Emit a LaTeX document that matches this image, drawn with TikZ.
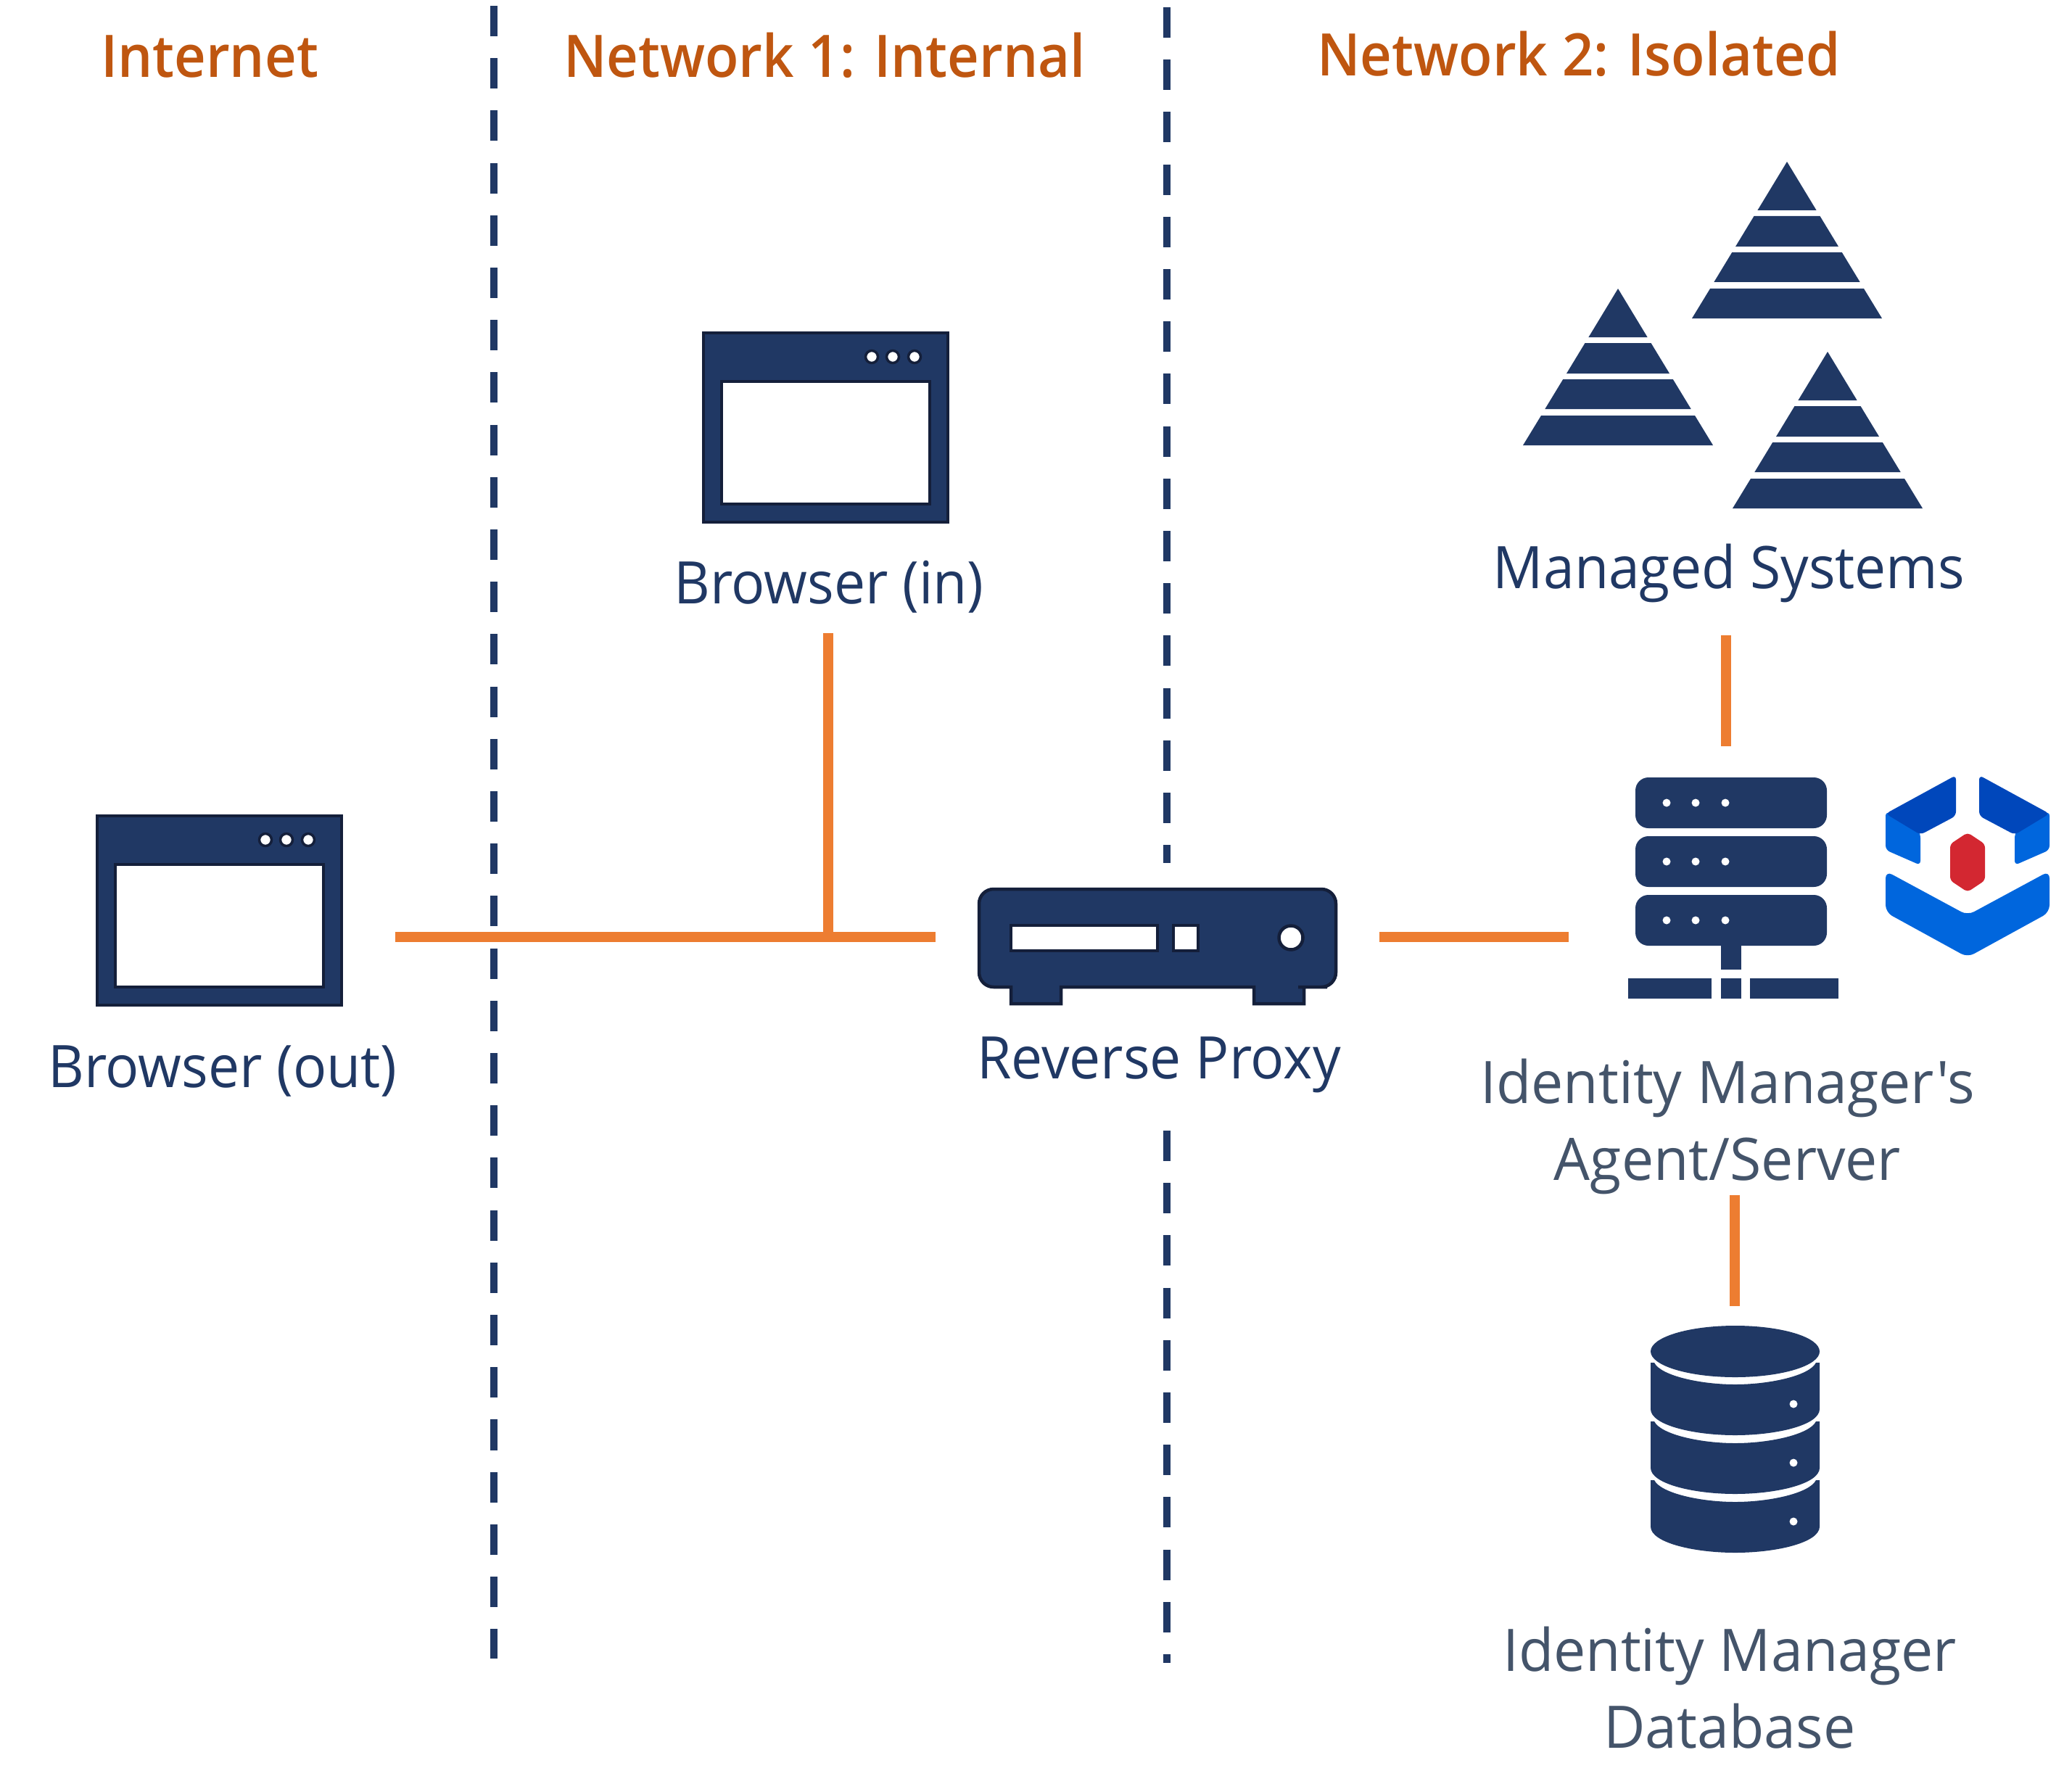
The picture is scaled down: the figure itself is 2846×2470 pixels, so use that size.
\documentclass[tikz,border=0pt]{standalone}
\usepackage{fontspec}
\newfontfamily\labelfont[FakeStretch=0.95]{Open Sans}
\newfontfamily\lowfont[FakeStretch=0.975]{Open Sans}
\newfontfamily\headfont[FakeStretch=0.94,UprightFont=* Semibold]{Open Sans}
\definecolor{navy}{HTML}{203864}
\definecolor{rim}{HTML}{141F3A}
\definecolor{wire}{HTML}{ED7D31}
\definecolor{heading}{HTML}{BF5610}
\definecolor{slate}{HTML}{44546A}
\definecolor{logodark}{HTML}{0047BB}
\definecolor{logolight}{HTML}{0066DD}
\definecolor{logored}{HTML}{D32731}
\begin{document}
\begin{tikzpicture}
    [
    x=0.01cm,y=-0.01cm,
    zone/.style={anchor=base,inner sep=0pt,text=heading,font=\headfont\fontsize{23}{28}\selectfont},
    caption/.style={anchor=base,inner sep=0pt,align=center,text=navy,font=\labelfont\fontsize{23}{29.9}\selectfont},
    lowcaption/.style={caption,text=slate,font=\lowfont\fontsize{23}{29.9}\selectfont},
    wireline/.style={draw=wire,line width=0.14cm},
    border/.style={draw=navy,line width=0.1cm,dash pattern=on 0.42cm off 0.3016cm},
    icon/.style={fill=navy},
    rimmed/.style={fill=navy,draw=rim,line width=0.045cm},
    hole/.style={fill=white,draw=rim,line width=0.045cm}
    ]
    \useasboundingbox (0,0) rectangle (2846,2470);
    % zone headings
    \node (Zone0) at (289,107) [zone] {Internet};
    \node (Zone1) at (1137,107) [zone] {Network 1: Internal};
    \node (Zone2) at (2177,105) [zone] {Network 2: Isolated};
    % dashed zone borders
    \coordinate (B1a) at (681,8);
    \coordinate (B1b) at (681,2287);
    \coordinate (B2a) at (1609,10);
    \coordinate (B2b) at (1609,1190);
    \coordinate (B2c) at (1609,1559);
    \coordinate (B2d) at (1609,2293);
    \draw [border] (B1a) to (B1b);
    \draw [border] (B2a) to (B2b);
    \draw [border] (B2c) to (B2d);
    % browsers
    \foreach \bx/\by in {968/457,132/1123} {
      \begin{scope}[shift={(\bx,\by)}]
        \draw [rimmed] (2,2) rectangle (339,263);
        \draw [hole] (27,69) rectangle (314,238);
        \foreach \dx in {234,263,293} {
          \draw [hole,line width=0.035cm] (\dx,35) circle (8.5);
        }
      \end{scope}
    }
    \node (BrowserIn) at (1143,832) [caption] {Browser (in)};
    \node (BrowserOut) at (307,1499) [caption] {Browser (out)};
    % reverse proxy
    \draw [rimmed,rounded corners=0.2cm] (1380,1361) -- (1350,1361) -- (1350,1226) -- (1842,1226)
      -- (1842,1361) -- (1810,1361) [sharp corners] -- (1798,1361) -- (1798,1384) -- (1729,1384) -- (1729,1361)
      -- (1463,1361) -- (1463,1384) -- (1394,1384) -- (1394,1361) -- cycle;
    \draw [hole] (1394,1276) rectangle (1596,1311);
    \draw [hole] (1618,1276) rectangle (1652,1311);
    \draw [hole] (1780,1293) circle (16.5);
    \node (Proxy) at (1598,1487) [caption] {Reverse Proxy};
    % managed systems
    \foreach \px/\py in {2464/223,2231/398,2520/485} {
      \begin{scope}[shift={(\px,\py)}]
        \fill [icon] (0,0) -- (40.6,67) -- (-40.6,67) -- cycle;
        \fill [icon] (-45.5,75) -- (45.5,75) -- (71,117) -- (-71,117) -- cycle;
        \fill [icon] (-75.8,125) -- (75.8,125) -- (100.7,166) -- (-100.7,166) -- cycle;
        \fill [icon] (-106,175) -- (106,175) -- (131,216) -- (-131,216) -- cycle;
      \end{scope}
    }
    \node (Managed) at (2384,811) [caption] {Managed Systems};
    % server
    \foreach \ry in {1072,1153,1234} {
      \fill [icon,rounded corners=0.18cm] (2255,\ry) rectangle (2519,\ry+70);
      \foreach \dx in {2298,2338,2379} {
        \fill [white] (\dx,\ry+35) circle (5.5);
      }
    }
    \fill [icon] (2373,1300) rectangle (2401,1337);
    \fill [icon] (2245,1349) rectangle (2360,1377);
    \fill [icon] (2373,1349) rectangle (2401,1377);
    \fill [icon] (2413,1349) rectangle (2535,1377);
    \node (Agent) at (2382,1627) [lowcaption] {Identity Manager's\\Agent/Server};
    % logo
    \fill [logolight,rounded corners=0.06cm] (2600,1119) -- (2640,1135) -- (2648,1150) -- (2648,1193) -- (2600,1172) -- cycle;
    \fill [logolight,rounded corners=0.06cm] (2826,1119) -- (2786,1135) -- (2778,1150) -- (2778,1193) -- (2826,1172) -- cycle;
    \fill [logodark,rounded corners=0.06cm] (2600,1122) -- (2697,1069) -- (2697,1125) -- (2648,1151) -- cycle;
    \fill [logodark,rounded corners=0.06cm] (2826,1122) -- (2729,1069) -- (2729,1125) -- (2778,1151) -- cycle;
    \fill [logored,rounded corners=0.05cm] (2713,1148) -- (2737,1164) -- (2737,1214) -- (2713,1230) -- (2689,1214) -- (2689,1164) -- cycle;
    \fill [logolight,rounded corners=0.1cm] (2600,1201) -- (2713,1262) -- (2826,1201) -- (2826,1258) -- (2713,1320) -- (2600,1258) -- cycle;
    % database
    \fill [icon] (2392.5,1863.5) ellipse (116.5 and 35.5);
    \foreach \ty in {0,81,162} {
      \begin{scope}[yshift=-\ty*0.01cm]
        \fill [icon] (2276,1879) -- (2281,1879) .. controls (2290,1897) and (2345,1909) .. (2392.5,1909)
          .. controls (2440,1909) and (2495,1897) .. (2504,1879) -- (2509,1879) -- (2509,1943)
          .. controls (2509,1965) and (2450,1979) .. (2392.5,1979)
          .. controls (2335,1979) and (2276,1965) .. (2276,1943) -- cycle;
        \fill [white] (2473,1936) circle (5.5);
      \end{scope}
    }
    \node (Database) at (2385,2410) [lowcaption] {Identity Manager\\Database};
    % wires
    \coordinate (W0) at (545,1292);
    \coordinate (W1) at (1290,1292);
    \coordinate (W2) at (1142,873);
    \coordinate (W3) at (1142,1292);
    \coordinate (W4) at (1902,1292);
    \coordinate (W5) at (2163,1292);
    \coordinate (W6) at (2380,876);
    \coordinate (W7) at (2380,1029);
    \coordinate (W8) at (2392,1648);
    \coordinate (W9) at (2392,1801);
    \draw [wireline] (W0) to (W1);
    \draw [wireline] (W2) to (W3);
    \draw [wireline] (W4) to (W5);
    \draw [wireline] (W6) to (W7);
    \draw [wireline] (W8) to (W9);
  \end{tikzpicture}
\end{document}
